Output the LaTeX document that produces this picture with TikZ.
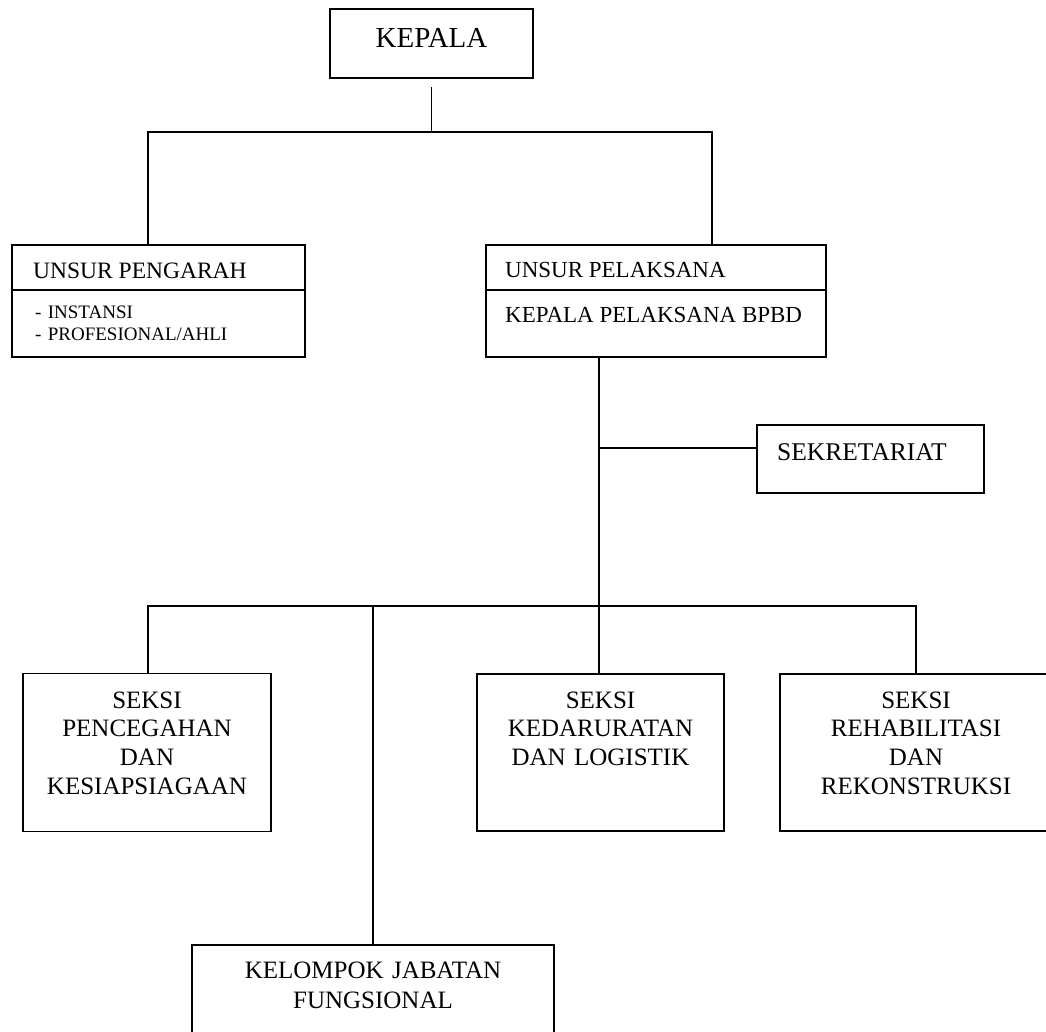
\documentclass[tikz,border=0pt]{standalone}
\usepackage{fontspec}
\setmainfont{Liberation Serif}
\newcommand{\ukuran}[2]{\fontsize{#1}{#2}\selectfont}
\tikzset{
  kotak/.style={draw, line width=1.8pt, inner sep=0pt},
  garis/.style={line width=1.8pt},
  tulisan/.style={inner sep=0pt, anchor=base, align=center},
  tulisankiri/.style={inner sep=0pt, anchor=base west, align=left},
}
\begin{document}
\begin{tikzpicture}[x=1pt,y=-1pt]
	   \useasboundingbox (0,0) rectangle (1046,1032);
	   % kotak
	   \node [kotak,minimum width=203pt,minimum height=69pt] (kepala) at (431.5,43.5) {};
	   \node [kotak,minimum width=293pt,minimum height=112pt] (pengarah) at (158.5,301) {};
	   \node [kotak,minimum width=340pt,minimum height=112pt] (pelaksana) at (656,301) {};
	   \node [kotak,minimum width=227pt,minimum height=68pt] (sekretariat) at (870.5,459) {};
	   \node [kotak,minimum width=248pt,minimum height=158pt] (pencegahan) at (147,752.5) {};
	   \node [kotak,minimum width=247pt,minimum height=157pt] (kedaruratan) at (600.5,752.5) {};
	   \node [kotak,minimum width=272pt,minimum height=157pt] (rehabilitasi) at (916,752.5) {};
	   \node [kotak,minimum width=362pt,minimum height=100pt] (kelompok) at (373,995) {};
	   \draw [garis] (pengarah.west |- 0,290) -- (pengarah.east |- 0,290);
	   \draw [garis] (pelaksana.west |- 0,290) -- (pelaksana.east |- 0,290);
	   % tulisan
	   \node [tulisan,font=\ukuran{29}{32}] (tkepala) at (kepala.north |- 0,48) {KEPALA};
	   \node [tulisankiri,font=\ukuran{23.5}{27}] (tpengarah) at (33,278) {UNSUR PENGARAH};
	   \node [tulisankiri,text width=260pt,font=\ukuran{19}{22}] (tinstansi) at (35,318) {- INSTANSI\\- PROFESIONAL/AHLI};
	   \node [tulisankiri,font=\ukuran{23}{27}] (tpelaksana) at (505,277) {UNSUR PELAKSANA};
	   \node [tulisankiri,font=\ukuran{23}{27}] (tkalak) at (505,322) {KEPALA PELAKSANA BPBD};
	   \node [tulisankiri,font=\ukuran{25.5}{29}] (tsekretariat) at (777,460) {SEKRETARIAT};
	   \node [tulisan,text width=240pt,font=\ukuran{25}{28.7}] (tpencegahan) at (pencegahan.north |- 0,708) {SEKSI\\PENCEGAHAN\\DAN\\KESIAPSIAGAAN};
	   \node [tulisan,text width=240pt,font=\ukuran{25}{28.7}] (tkedaruratan) at (kedaruratan.north |- 0,708) {SEKSI\\KEDARURATAN\\DAN LOGISTIK};
	   \node [tulisan,text width=260pt,font=\ukuran{25}{28.7}] (trehabilitasi) at (rehabilitasi.north |- 0,708) {SEKSI\\REHABILITASI\\DAN\\REKONSTRUKSI};
	   \node [tulisan,text width=340pt,font=\ukuran{25}{30}] (tkelompok) at (kelompok.north |- 0,978) {KELOMPOK JABATAN\\FUNGSIONAL};
	   % garis penghubung
	   \coordinate (j1) at (148,132);
	   \coordinate (j2) at (712,132);
	   \coordinate (j3) at (599,606);
	   \coordinate (j4) at (148,606);
	   \coordinate (j5) at (916,606);
	   \coordinate (s1) at (599,448);
	   \draw [garis] ([yshift=-8pt]kepala.south) -- (kepala.south |- j1);
	   \draw [garis] (j1 |- pengarah.north) -- (j1) -- (j2) -- (j2 |- pelaksana.north);
	   \draw [garis] (j3 |- pelaksana.south) -- (j3);
	   \draw [garis] (s1) -- (s1 -| sekretariat.west);
	   \draw [garis] (j4 |- pencegahan.north) -- (j4) -- (j5) -- (j5 |- rehabilitasi.north);
	   \draw [garis] (j3) -- (j3 |- kedaruratan.north);
	   \draw [garis] (kelompok.north |- j4) -- (kelompok.north);
	\end{tikzpicture}
\end{document}
